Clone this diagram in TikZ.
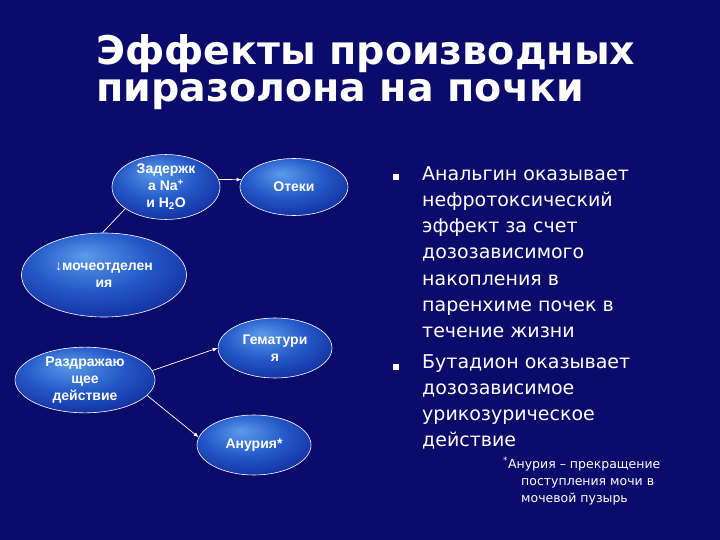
\documentclass[tikz,border=0pt]{standalone}
\usepackage{fontspec}
\setmainfont{DejaVu Sans}
\newfontfamily\ellfont{Liberation Sans}
\usetikzlibrary{arrows.meta,shapes.geometric}

\definecolor{slidebg}{HTML}{0B0B6B}
\definecolor{blobin}{HTML}{5A9BEA}
\definecolor{blobmid}{HTML}{2458C8}
\definecolor{blobout}{HTML}{0A1A8C}
\pgfdeclareradialshading{blob}{\pgfpoint{-6bp}{12bp}}{%
  color(0bp)=(blobin); color(18bp)=(blobmid); color(40bp)=(blobout); color(60bp)=(blobout)}

\begin{document}
\begin{tikzpicture}[
			x=1pt, y=-1pt,
			ell/.style={ellipse, draw=white, line width=0.6pt, shading=blob,
				text=white, font=\ellfont\bfseries\fontsize{14}{17}\selectfont,
				align=center, inner sep=0pt},
			link/.style={draw=white, line width=0.7pt},
			arr/.style={link, -{Latex[length=5pt,width=4pt]}},
			bul/.style={fill=white, minimum size=6pt, inner sep=0pt},
			body/.style={anchor=north west, text=white, align=left, inner sep=0pt,
				font=\fontsize{19}{26.3}\selectfont}
			]
			
			\fill[slidebg] (0,0) rectangle (720,540);
			\useasboundingbox (0,0) rectangle (720,540);
			
			% title
			\node[anchor=north west, text=white, align=left, inner sep=0pt,
				font=\bfseries\fontsize{39.5}{37}\selectfont] (title) at (96,34)
				{Эффекты производных\\пиразолона на почки};
			
			% ellipses
			\node[ell, minimum width=108pt, minimum height=56pt] (zad) at (166,187)
				{Задержк\\а Na\textsuperscript{+}\\и H\textsubscript{2}O};
			\node[ell, minimum width=108pt, minimum height=57pt] (otek) at (294,187) {Отеки};
			\node[ell, minimum width=165pt, minimum height=84pt] (moch) at (104,275)
				{↓мочеотделен\\ия};
			\node[ell, minimum width=114pt, minimum height=60pt] (gem) at (275,348)
				{Гематури\\я};
			\node[ell, minimum width=140pt, minimum height=65pt] (razd) at (85,380)
				{Раздражаю\\щее\\действие};
			\node[ell, minimum width=114pt, minimum height=60pt] (anur) at (254,445)
				{Анурия*};
			
			% connectors
			\draw[arr] (zad.8) -- (otek.172);
			\draw[link] (moch.92) -- (zad.208);
			\draw[arr] (razd.8) -- (gem.180);
			\draw[arr] (razd.-14) -- (anur.172);
			
			% bullets
			\node[bul] (b1) at (396,177) {};
			\node[bul] (b2) at (396,367) {};
			\node[body] (t1) at (422,166)
				{Анальгин оказывает\\нефротоксический\\эффект за счет\\дозозависимого\\накопления в\\паренхиме почек в\\течение жизни};
			\node[body] (t2) at (422,354)
				{Бутадион оказывает\\дозозависимое\\урикозурическое\\действие};
			
			% footnote
			\node[anchor=north west, text=white, align=left, inner sep=0pt,
				font=\fontsize{12.5}{17}\selectfont] (note) at (503,457)
				{\textsuperscript{*}Анурия – прекращение\\\hspace*{18pt}поступления мочи в\\\hspace*{18pt}мочевой пузырь};
		\end{tikzpicture}
\end{document}
